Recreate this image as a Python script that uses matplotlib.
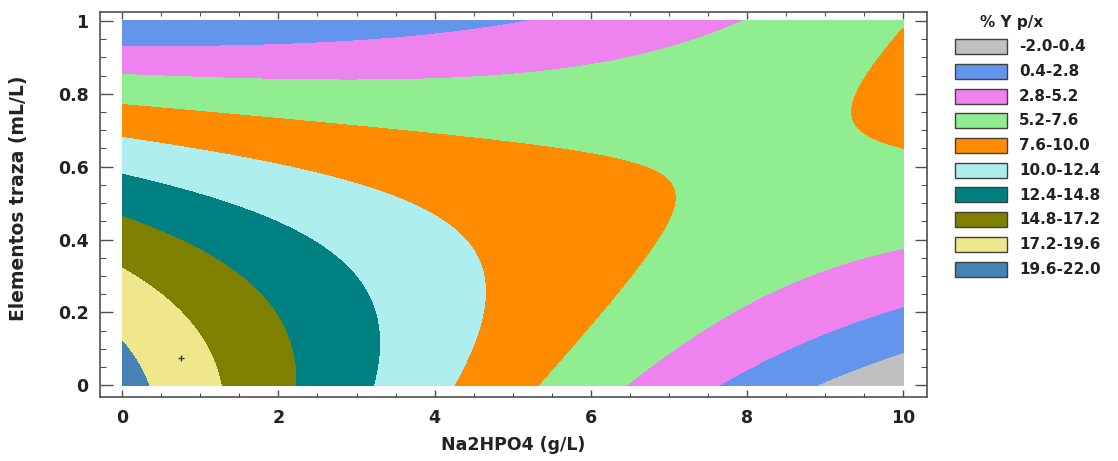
import matplotlib

matplotlib.use("Agg")
import matplotlib.pyplot as plt
import numpy as np
from matplotlib.patches import Rectangle
from matplotlib.ticker import FuncFormatter, MultipleLocator
from numpy.polynomial import polynomial as P

# fitted response surface: % Y p/x as a biquadratic in Na2HPO4 (x) and trace elements (y)
# row i holds the coefficients of x**i for the powers y**0, y**1, y**2
COEF_X0 = [20.5, -5.65, -14.4]
COEF_X1 = [-2.664, 2.574, 0.268]
COEF_X2 = [0.0454, 0.0343, -0.027]

X_RANGE = [0.0, 10.0]    # Na2HPO4 (g/L)
Y_RANGE = [0.0, 1.0]     # Elementos traza (mL/L)

LEVELS = [-2.0, 0.4, 2.8, 5.2, 7.6, 10.0, 12.4, 14.8, 17.2, 19.6, 22.0]
COLORS = ["#c0c0c0", "#6495ed", "#ee82ee", "#90ee90", "#ff8c00",
          "#afeeee", "#008080", "#808000", "#f0e68c", "#4682b4"]

# marked design point
MARK_X = [0.75]
MARK_Y = [0.074]

FONT = "DejaVu Sans"
FRAME = "#505050"


def response(x, y):
    coefs = np.array([COEF_X0, COEF_X1, COEF_X2])
    return P.polyval2d(x, y, coefs)


def main():
    fig = plt.figure(figsize=(11.18, 4.61), dpi=100)
    ax = fig.add_axes([0.089, 0.1395, 0.7402, 0.8351])

    xs = np.linspace(X_RANGE[0], X_RANGE[1], 500)
    ys = np.linspace(Y_RANGE[0], Y_RANGE[1], 500)
    gx, gy = np.meshgrid(xs, ys)
    gz = response(gx, gy)

    ax.contourf(gx, gy, gz, levels=LEVELS, colors=COLORS, antialiased=False)
    ax.plot(MARK_X, MARK_Y, "+", color="#3a3a2a", ms=4, mew=1.0)

    ax.set_xlim(-0.292, 10.307)
    ax.set_ylim(-0.031, 1.025)

    ax.xaxis.set_major_locator(MultipleLocator(2))
    ax.xaxis.set_minor_locator(MultipleLocator(0.5))
    ax.yaxis.set_major_locator(MultipleLocator(0.2))
    ax.yaxis.set_minor_locator(MultipleLocator(0.05))
    ax.yaxis.set_major_formatter(FuncFormatter(lambda v, _: f"{v:g}"))
    ax.tick_params(which="both", direction="in", top=True, right=True, color=FRAME)
    ax.tick_params(axis="x", which="major", length=5, width=1, pad=9)
    ax.tick_params(axis="x", which="minor", length=3, width=0.8)
    ax.tick_params(axis="y", which="major", length=9, width=1, pad=8)
    ax.tick_params(axis="y", which="minor", length=4.5, width=0.8)
    for lab in ax.get_xticklabels() + ax.get_yticklabels():
        lab.set_fontfamily(FONT)
        lab.set_fontweight("bold")
        lab.set_fontsize(12.5)
        lab.set_color("#222222")
    for sp in ax.spines.values():
        sp.set_color(FRAME)
        sp.set_linewidth(1.2)

    ax.set_xlabel("Na2HPO4 (g/L)", fontfamily=FONT, fontweight="bold",
                  fontsize=12.5, color="#222222", labelpad=6)
    ax.set_ylabel("Elementos traza (mL/L)", fontfamily=FONT, fontweight="bold",
                  fontsize=13.5, color="#222222")
    ax.yaxis.set_label_coords(-0.086, 0.516)

    # legend box built by hand, one swatch per filled band
    W, H = 1118.0, 461.0
    fig.text(1012 / W, 1 - 22 / H, "% Y p/x", ha="center", va="center",
             fontfamily=FONT, fontweight="bold", fontsize=11, color="#222222")
    for i, color in enumerate(COLORS):
        cy = 46.8 + 24.7 * i
        fig.add_artist(Rectangle((955 / W, 1 - (cy + 7.5) / H), 52 / W, 15 / H,
                                 transform=fig.transFigure, facecolor=color,
                                 edgecolor="#404040", linewidth=1.0))
        fig.text(1019 / W, 1 - cy / H, f"{LEVELS[i]:.1f}-{LEVELS[i + 1]:.1f}",
                 ha="left", va="center", fontfamily=FONT, fontweight="bold",
                 fontsize=11, color="#222222")

    fig.savefig("out.png", dpi=100)


if __name__ == "__main__":
    main()
